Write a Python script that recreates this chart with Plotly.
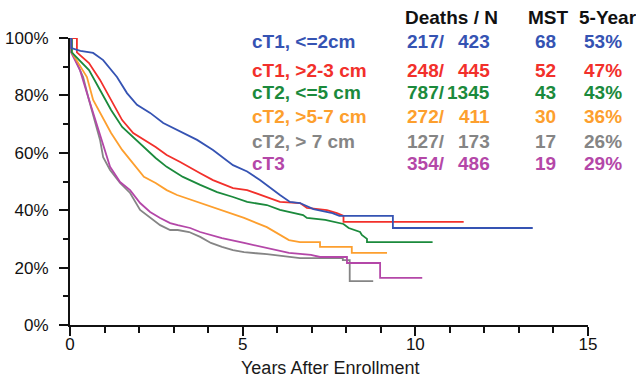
import plotly.graph_objects as go

# ---------------- data ----------------
t_blue = [0, 0.04, 0.04, 0.3, 0.67, 0.96, 1.36, 1.65, 1.94, 2.32, 2.7, 3.1, 3.39, 3.68, 4.14, 4.72, 5.13, 5.5, 6.08, 6.37, 6.66, 7.05, 7.6, 7.8, 9.35, 9.35, 13.4]
s_blue = [100, 100, 96.5, 95.5, 94.8, 92.3, 86.4, 80.8, 76.7, 73.9, 70.4, 67.9, 66.2, 64.5, 61, 55.7, 53.5, 50.5, 45.3, 42.9, 42.5, 40.4, 39, 38, 38, 33.8, 33.8]

t_red = [0, 0.2, 0.2, 0.29, 0.55, 0.87, 1.19, 1.51, 1.83, 2.48, 2.8, 3.19, 3.77, 4.14, 4.72, 5.13, 6.08, 6.66, 6.86, 7.44, 7.73, 7.92, 7.92, 11.4]
s_red = [100, 100, 95, 94, 91.3, 85.4, 78.4, 71.4, 66.9, 62, 59.2, 56.8, 52.9, 50.5, 47.7, 47, 42.9, 42.5, 40.8, 40, 39, 38, 35.9, 35.9]

t_green = [0, 0.05, 0.05, 0.3, 0.55, 0.87, 1.19, 1.51, 1.83, 2.14, 2.48, 2.8, 3.27, 3.77, 4.26, 4.72, 5.13, 5.7, 6.08, 6.75, 6.86, 7.39, 7.92, 8.07, 8.4, 8.45, 8.6, 8.6, 10.5]
s_green = [100, 100, 95, 92, 88.8, 81.9, 74.9, 69, 65.5, 62, 58.2, 55.1, 51.6, 48.8, 46.3, 44.6, 42.9, 41.8, 40.1, 38.3, 37.3, 36.6, 35.2, 33.8, 32.4, 31.4, 30, 28.9, 28.9]

t_orange = [0, 0.05, 0.05, 0.3, 0.49, 0.67, 0.87, 1.19, 1.51, 1.83, 2.14, 2.48, 2.8, 3.1, 3.77, 4.4, 5.04, 5.7, 6.34, 6.66, 7.24, 7.24, 8.16, 8.16, 9.18]
s_orange = [100, 100, 95, 90, 86.4, 78.4, 73.9, 66.9, 61, 56.4, 51.6, 49.5, 47, 45.3, 42.5, 40.1, 37.3, 34.1, 29.6, 28.9, 28.9, 27.2, 27.2, 25.1, 25.1]

t_gray = [0, 0.06, 0.06, 0.2, 0.38, 0.55, 0.87, 0.96, 1.16, 1.45, 1.74, 2.03, 2.32, 2.61, 2.9, 3.12, 3.45, 3.77, 4.08, 4.4, 4.72, 5.04, 5.39, 5.7, 6.66, 7.9, 7.9, 8.1, 8.1, 8.78]
s_gray = [100, 100, 95, 91, 86.4, 78.4, 64.5, 58.5, 54, 49.5, 46, 40.1, 37.3, 34.8, 33.1, 33.1, 32.4, 30.7, 28.6, 27.2, 26.1, 25.4, 25, 24.7, 23.3, 23.3, 22.6, 22.6, 15.3, 15.3]

t_magenta = [0, 0.03, 0.03, 0.29, 0.49, 0.67, 0.87, 1.16, 1.45, 1.74, 2.03, 2.32, 2.61, 2.9, 3.12, 3.48, 3.77, 4.4, 5.04, 5.7, 6.34, 6.98, 7.24, 8.02, 8.02, 8.98, 8.98, 10.2]
s_magenta = [100, 100, 95, 88.8, 80.8, 73.9, 66.2, 55.1, 49.8, 47, 42.5, 39.4, 37.3, 35.5, 34.8, 33.8, 32.4, 30.3, 28.6, 26.8, 25.1, 24.4, 23.7, 23.7, 21.6, 21.6, 16.4, 16.4]

labels = ["cT1, <=2cm", "cT1, >2-3 cm", "cT2, <=5 cm", "cT2, >5-7 cm", "cT2, > 7 cm", "cT3"]
deaths = [217, 248, 787, 272, 127, 354]
n_total = [423, 445, 1345, 411, 173, 486]
mst = [68, 52, 43, 30, 17, 19]
five_year = [53, 47, 43, 36, 26, 29]

y_ticks = [0, 20, 40, 60, 80, 100]
y_tick_labels = ["0%", "20%", "40%", "60%", "80%", "100%"]
x_ticks = [0, 5, 10, 15]

colors = ["#3553b3", "#f2302b", "#1b8a3c", "#fd9f2e", "#858585", "#b447a8"]
series = [(t_blue, s_blue), (t_red, s_red), (t_green, s_green),
          (t_orange, s_orange), (t_gray, s_gray), (t_magenta, s_magenta)]

FONT = "Liberation Sans, Arial, sans-serif"

fig = go.Figure()
# draw in an order so that upper curves stay visible
for i in [4, 5, 3, 2, 1, 0]:
    t, s = series[i]
    fig.add_trace(go.Scatter(x=t, y=s, mode="lines", line=dict(color=colors[i], width=1.8),
                             name=labels[i], showlegend=False, hoverinfo="skip"))

# layout geometry (page pixels)
W, H = 636, 381
AX_L, AX_R, AX_T, AX_B = 70, 588, 38, 325   # plot area
L, T, R, B = AX_L, AX_T, W - AX_R, H - AX_B
pw, ph = AX_R - AX_L, AX_B - AX_T


def px(x):
    return (x - AX_L) / pw


def py(y):
    return (AX_B - y) / ph


ann = []
row_y = [41, 70, 92, 116, 141, 163]
for i in range(6):
    c = colors[i]
    f = dict(family=FONT, size=19, color=c)
    yy = py(row_y[i])
    ann.append(dict(x=px(250), y=yy, text=f"<b>{labels[i]}</b>", xanchor="left", font=f))
    ann.append(dict(x=px(447), y=yy, text=f"<b>{deaths[i]}/</b>", xanchor="right", font=f))
    ann.append(dict(x=px(492), y=yy, text=f"<b>{n_total[i]}</b>", xanchor="right", font=f))
    ann.append(dict(x=px(558), y=yy, text=f"<b>{mst[i]}</b>", xanchor="right", font=f))
    ann.append(dict(x=px(624), y=yy, text=f"<b>{five_year[i]}%</b>", xanchor="right", font=f))

hf = dict(family=FONT, size=19, color="#111111")
ann.append(dict(x=px(451), y=py(18), text="<b>Deaths / N</b>", xanchor="center", font=hf))
ann.append(dict(x=px(548), y=py(18), text="<b>MST</b>", xanchor="center", font=hf))
ann.append(dict(x=px(577), y=py(18), text="<b>5-Year</b>", xanchor="left", font=hf))
ann.append(dict(x=px(330), y=py(368), text="Years After Enrollment", xanchor="center",
                font=dict(family=FONT, size=18, color="#1a1a1a")))

for a in ann:
    a.update(xref="paper", yref="paper", yanchor="middle", showarrow=False)

axis_common = dict(showline=True, linecolor="#111111", linewidth=2, ticks="outside",
                   ticklen=9, tickwidth=2, tickcolor="#111111", showgrid=False, zeroline=False,
                   automargin=False,
                   tickfont=dict(family=FONT, size=17, color="#111111"), fixedrange=True)

fig.update_layout(
    width=W, height=H,
    margin=dict(l=L, r=R, t=T, b=B, pad=0, autoexpand=False),
    paper_bgcolor="white", plot_bgcolor="white",
    xaxis=dict(range=[0, 15], tickvals=x_ticks,
               minor=dict(dtick=1, ticklen=6, tickwidth=2, tickcolor="#111111", ticks="outside"),
               ticklabelstandoff=-6,
               **axis_common),
    yaxis=dict(range=[0, 100], tickvals=y_ticks, ticktext=y_tick_labels,
               minor=dict(dtick=10, ticklen=5, tickwidth=2, tickcolor="#111111", ticks="outside"),
               ticklabelstandoff=7,
               **axis_common),
    annotations=ann,
)

fig.write_html("out.html", config={"displayModeBar": False},
               post_script="document.body.style.margin='0';document.body.style.overflow='hidden';")
